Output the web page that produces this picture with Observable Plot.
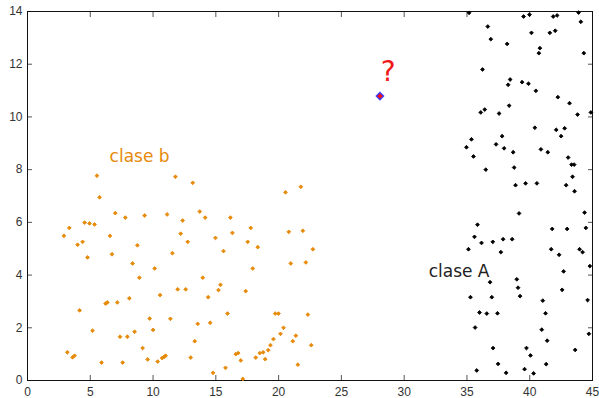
<!DOCTYPE html>
<html><head><meta charset="utf-8">
<script src="https://cdn.jsdelivr.net/npm/d3@7"></script>
<script src="https://cdn.jsdelivr.net/npm/@observablehq/plot@0.6"></script>
<style>html,body{margin:0;padding:0;background:#fff;} svg{display:block}</style>
</head><body><div id="chart"></div>
<script>
// clase b (orange)
const bX = [5.53,5.74,6.99,7.79,9.33,11.12,3.33,2.90,4.55,4.94,5.34,3.99,4.39,6.57,4.78,6.73,8.75,8.37,10.13,8.91,
11.54,11.78,13.16,20.55,21.77,13.72,14.15,12.36,16.16,17.78,12.20,16.32,20.81,21.93,12.76,14.97,17.54,18.34,22.73,15.61,
17.94,20.97,22.17,13.96,10.56,4.15,6.22,6.36,7.15,8.11,9.73,11.38,5.18,7.37,7.95,8.53,10.00,3.17,3.59,3.75,
9.17,9.57,5.90,7.58,10.37,10.72,10.88,11.00,11.96,12.60,15.37,15.21,14.39,17.38,13.56,14.55,15.93,19.73,19.99,22.33,
20.39,20.15,19.59,19.35,19.17,18.77,18.50,18.18,18.93,21.37,21.13,22.60,21.53,13.32,13.00,16.59,16.78,16.99,14.78,15.77,17.15];
const bY = [7.77,6.95,6.35,6.18,6.26,6.30,5.79,5.49,5.99,5.96,5.92,5.15,5.26,5.49,4.67,4.79,5.13,4.44,4.25,3.90,
4.83,7.73,7.50,7.14,7.35,6.41,6.18,6.07,6.18,5.79,5.57,5.60,5.64,5.68,5.26,5.41,5.26,5.06,4.98,4.91,
4.25,4.44,4.48,3.90,3.24,2.66,2.92,2.96,2.96,3.12,2.35,2.34,1.89,1.66,1.66,1.85,1.92,1.07,0.88,0.94,
1.23,0.80,0.68,0.68,0.72,0.85,0.90,0.94,3.46,3.46,3.63,3.43,3.16,3.39,2.15,2.19,2.54,2.54,2.54,2.50,
2.00,1.77,1.57,1.34,1.15,1.07,1.04,0.87,0.81,1.70,1.49,1.34,0.60,1.49,0.87,1.00,1.04,0.76,0.29,0.48,0.06];
// clase A (black)
const aX = [35.17,39.51,39.98,41.87,42.18,43.89,44.07,36.66,36.90,38.20,40.14,41.60,42.03,40.81,40.73,44.31,36.24,38.44,38.28,39.39,
39.90,40.49,42.24,43.17,38.36,36.10,36.42,37.56,43.81,44.87,40.41,42.11,42.78,42.50,37.80,35.36,34.96,37.32,37.96,38.68,
40.89,41.44,35.52,43.06,43.33,43.54,36.50,38.76,43.41,38.87,39.67,40.57,42.90,43.57,39.15,44.37,35.84,41.79,42.98,44.47,
35.60,36.16,37.06,37.88,38.60,35.12,37.70,41.71,42.34,43.97,44.21,44.79,42.70,36.84,38.97,39.07,42.58,35.28,36.98,39.23,
41.04,44.61,36.00,36.58,37.43,41.26,35.65,40.96,41.39,44.71,37.08,39.74,40.06,43.62,37.48,41.31,35.78,38.12,39.59,40.31];
const aY = [13.95,13.81,13.88,13.81,13.85,13.96,13.61,13.43,12.95,12.77,13.19,13.19,13.27,12.61,12.42,12.42,11.80,11.42,11.22,11.32,
11.26,10.99,10.75,10.52,10.43,10.17,10.28,10.13,10.09,10.17,9.59,9.51,9.57,9.27,9.27,9.15,8.85,8.96,8.81,8.66,
8.77,8.66,8.50,8.46,8.19,8.19,8.00,8.08,7.73,7.41,7.48,7.48,7.41,7.18,6.34,6.37,5.91,5.75,5.75,5.79,
5.45,5.22,5.26,5.36,5.36,4.98,4.87,4.98,4.77,4.98,4.87,4.34,4.14,3.73,3.84,3.52,3.44,3.16,3.16,3.20,
3.03,3.05,2.58,2.54,2.55,2.55,2.01,1.93,1.51,1.77,1.23,1.23,0.95,1.16,0.63,0.62,0.38,0.29,0.43,0.27];
// unknown point
const qX = [28.07];
const qY = [10.79];
// annotations
const labelText = ["clase b", "clase A", "?"];
const labelX = [6.54, 31.95, 28.72];
const labelY = [8.49, 4.15, 11.69];
// ticks
const xTicks = [0,5,10,15,20,25,30,35,40,45];
const yTicks = [0,2,4,6,8,10,12,14];

const pts = (xs, ys) => xs.map((x, i) => ({x, y: ys[i]}));
const classB = pts(bX, bY);
const classA = pts(aX, aY);
const query = pts(qX, qY);
const labels = labelText.map((t, i) => ({t, x: labelX[i], y: labelY[i]}));

const orange = "#e68a0a";
const blank = () => "";
const chart = Plot.plot({
  width: 599, height: 398,
  marginLeft: 27, marginRight: 7, marginTop: 11, marginBottom: 18,
  x: {domain: [0, 45]},
  y: {domain: [0, 14]},
  style: {fontFamily: "'Liberation Sans', Arial, sans-serif", fontSize: "12px", background: "#fff", color: "#333", overflow: "visible"},
  marks: [
    Plot.axisX(xTicks, {anchor: "bottom", tickSize: -5, tickPadding: 12, label: null, stroke: "#555", fill: "#333"}),
    Plot.axisX(xTicks, {anchor: "top", tickSize: -5, tickFormat: blank, label: null, stroke: "#555"}),
    Plot.axisY(yTicks, {anchor: "left", tickSize: -5, tickPadding: 10, label: null, stroke: "#555", fill: "#333"}),
    Plot.axisY(yTicks, {anchor: "right", tickSize: -5, tickFormat: blank, label: null, stroke: "#555"}),
    Plot.frame({stroke: "#111"}),
    Plot.dot(classB, {x: "x", y: "y", symbol: "diamond2", r: 1.7, fill: orange, stroke: orange, strokeWidth: 0.9}),
    Plot.dot(classA, {x: "x", y: "y", symbol: "diamond2", r: 1.7, fill: "#000", stroke: "#000", strokeWidth: 0.9}),
    Plot.dot(query, {x: "x", y: "y", symbol: "diamond2", r: 3.3, fill: "#f01010", stroke: "#3b3bff", strokeWidth: 1.3}),
    Plot.text(labels.filter(d => d.t === "clase b"), {x: "x", y: "y", text: "t", textAnchor: "start", fill: orange, fontSize: 17, fontFamily: "'DejaVu Sans', sans-serif"}),
    Plot.text(labels.filter(d => d.t === "clase A"), {x: "x", y: "y", text: "t", textAnchor: "start", fill: "#222", fontSize: 17, fontFamily: "'DejaVu Sans', sans-serif"}),
    Plot.text(labels.filter(d => d.t === "?"), {x: "x", y: "y", text: "t", textAnchor: "middle", fill: "#f01818", fontSize: 28, fontFamily: "'DejaVu Sans', sans-serif"})
  ]
});
document.getElementById("chart").appendChild(chart);
</script>
</body></html>
